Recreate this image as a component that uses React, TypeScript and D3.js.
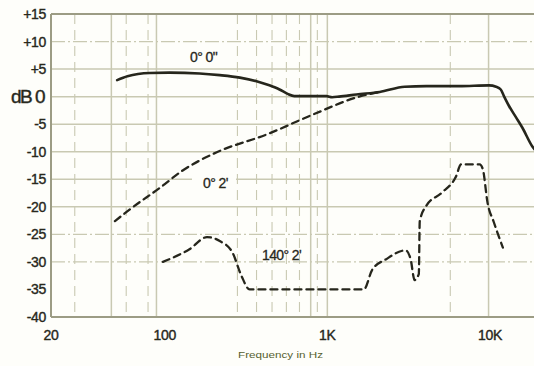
import React from "react";
import * as d3 from "d3";

// ---- data ----
const xTickValues = [20, 100, 1000, 10000];
const xTickLabels = ["20", "100", "1K", "10K"];
const yTickValues = [15, 10, 5, 0, -5, -10, -15, -20, -25, -30, -35, -40];
const yTickLabels = ["+15", "+10", "+5", "dB 0", "-5", "-10", "-15", "-20", "-25", "-30", "-35", "-40"];

const hGridSolid = [5, 0, -5, -10, -15, -20];
const hGridDashDot = [10, -25, -30];
const vGridSolid = [47, 89, 790, 1000, 9800];
const vGridDashed = [28, 58, 79, 280, 367, 457, 560, 674, 868, 5700];

// 0° 0"  (solid)
const freq00 = [51, 59, 81, 107, 164, 218, 290, 367, 440, 508, 570, 626, 780, 990, 1070, 1180, 1510, 2100, 2990, 4060, 6450, 9860, 10900, 11640, 12180, 13090, 14490, 15790, 18170, 20000];
const db00 = [3.0, 3.7, 4.3, 4.35, 4.2, 3.9, 3.45, 2.8, 2.05, 1.3, 0.5, 0.1, 0.1, 0.1, -0.1, 0, 0.4, 0.85, 1.8, 1.9, 1.9, 2.05, 1.8, 1.3, 0.1, -1.7, -3.8, -5.6, -9, -10.5];

// 0° 2'  (dashed)
const freq02 = [49.4, 62.8, 93, 129, 209, 421, 808, 1569, 2100];
const db02 = [-22.6, -20.2, -16.6, -13.4, -10.1, -6.9, -3.3, 0, 0.85];

// 140° 2'  (dashed)
const freq1402 = [97.4, 107, 142, 182, 218, 261, 297, 333, 1675, 1889, 2300, 3030, 3250, 3440, 3650, 3700, 4040, 5070, 6180, 6640, 8640, 9040, 9650, 10560, 12000];
const db1402 = [-30, -29.5, -27.7, -25.5, -26.2, -28.3, -32.6, -35, -35, -31.4, -29.5, -27.9, -29.5, -33.3, -32.2, -22.6, -19.9, -17.4, -14.5, -12.3, -12.3, -13.2, -19.2, -22.8, -27.4];

const curveLabels = ["0° 0\"", "0° 2'", "140° 2'"];

export default function App() {
  const W = 534, H = 366;
  const left = 51, top = 14, bottom = 317, right = 534;
  const x = d3.scaleLog().domain([20, 10000]).range([51, 490]);
  const y = d3.scaleLinear().domain([-40, 15]).range([bottom, top]);

  const line = d3
    .line<[number, number]>()
    .x((d) => x(d[0]))
    .y((d) => y(d[1]))
    .curve(d3.curveMonotoneX);

  const zip = (f: number[], v: number[]) => f.map((fv, i) => [fv, v[i]] as [number, number]);

  const gridColor = "#c9c9b2";
  const borderColor = "#9c9c84";
  const inkColor = "#26261c";
  const textColor = "#28281c";
  const font = "'Liberation Sans', Arial, sans-serif";

  return (
    <svg width={W} height={H} style={{ position: "absolute", left: 0, top: 0, background: "#fefefa" }}>
      <defs>
        <clipPath id="plot">
          <rect x={left} y={top - 2} width={right - left} height={bottom - top + 4} />
        </clipPath>
      </defs>
      <rect x={0} y={0} width={W} height={H} fill="#fefefa" />
      {/* grid */}
      <g>
        {hGridSolid.map((v) => (
          <line key={"hs" + v} x1={left} x2={right} y1={y(v)} y2={y(v)} stroke={gridColor} strokeWidth={1.5} />
        ))}
        {hGridDashDot.map((v) => (
          <line key={"hd" + v} x1={left} x2={right} y1={y(v)} y2={y(v)} stroke={gridColor} strokeWidth={1.3} strokeDasharray="14,3,2,3" />
        ))}
        {vGridSolid.map((f) => (
          <line key={"vs" + f} x1={x(f)} x2={x(f)} y1={top} y2={bottom} stroke={gridColor} strokeWidth={1.5} />
        ))}
        {vGridDashed.map((f) => (
          <line key={"vd" + f} x1={x(f)} x2={x(f)} y1={top} y2={bottom} stroke={gridColor} strokeWidth={1.1} strokeDasharray="10,6" />
        ))}
      </g>
      {/* borders */}
      <line x1={left} x2={right} y1={top} y2={top} stroke={borderColor} strokeWidth={2} />
      <line x1={left} x2={right} y1={bottom} y2={bottom} stroke={borderColor} strokeWidth={2} />
      <line x1={left} x2={left} y1={top} y2={bottom} stroke={borderColor} strokeWidth={2} />

      {/* label backgrounds */}
      <rect x={192} y={174} width={44} height={17} fill="#fefefa" />

      {/* curves */}
      <g clipPath="url(#plot)" fill="none" strokeLinecap="round" strokeLinejoin="round">
        <path d={line(zip(freq02, db02)) || ""} stroke={inkColor} strokeWidth={2.3} strokeDasharray="7,5" />
        <path d={line(zip(freq1402, db1402)) || ""} stroke={inkColor} strokeWidth={2.3} strokeDasharray="7,5" />
        <path d={line(zip(freq00, db00)) || ""} stroke={inkColor} strokeWidth={2.6} />
      </g>

      {/* curve labels */}
      <g fontFamily={font} fontSize={14} fill={textColor} stroke={textColor} strokeWidth={0.3} letterSpacing={-0.6}>
        <text x={190} y={62}>{curveLabels[0]}</text>
        <text x={203} y={188}>{curveLabels[1]}</text>
        <text x={262} y={260}>{curveLabels[2]}</text>
      </g>

      {/* y tick labels */}
      <g fontFamily={font} fill={textColor} stroke={textColor} strokeWidth={0.4} textAnchor="end">
        {yTickValues.map((v, i) =>
          v === 0 ? (
            <text key={v} x={44} y={y(v)} dy="0.36em" fontSize={19} letterSpacing={-1.5}>
              {yTickLabels[i]}
            </text>
          ) : (
            <text key={v} x={46} y={y(v)} dy="0.36em" fontSize={14} letterSpacing={-0.3}>
              {yTickLabels[i]}
            </text>
          )
        )}
      </g>

      {/* x tick labels */}
      <g fontFamily={font} fill={textColor} stroke={textColor} strokeWidth={0.4} textAnchor="middle" fontSize={14} letterSpacing={-0.3}>
        {xTickValues.map((v, i) => (
          <text key={v} x={x(v)} y={340}>
            {xTickLabels[i]}
          </text>
        ))}
      </g>

      <text x={238} y={358} fontFamily={font} fontSize={8.5} fill="#56602e" textLength={85} lengthAdjust="spacingAndGlyphs">
        Frequency in Hz
      </text>
    </svg>
  );
}
